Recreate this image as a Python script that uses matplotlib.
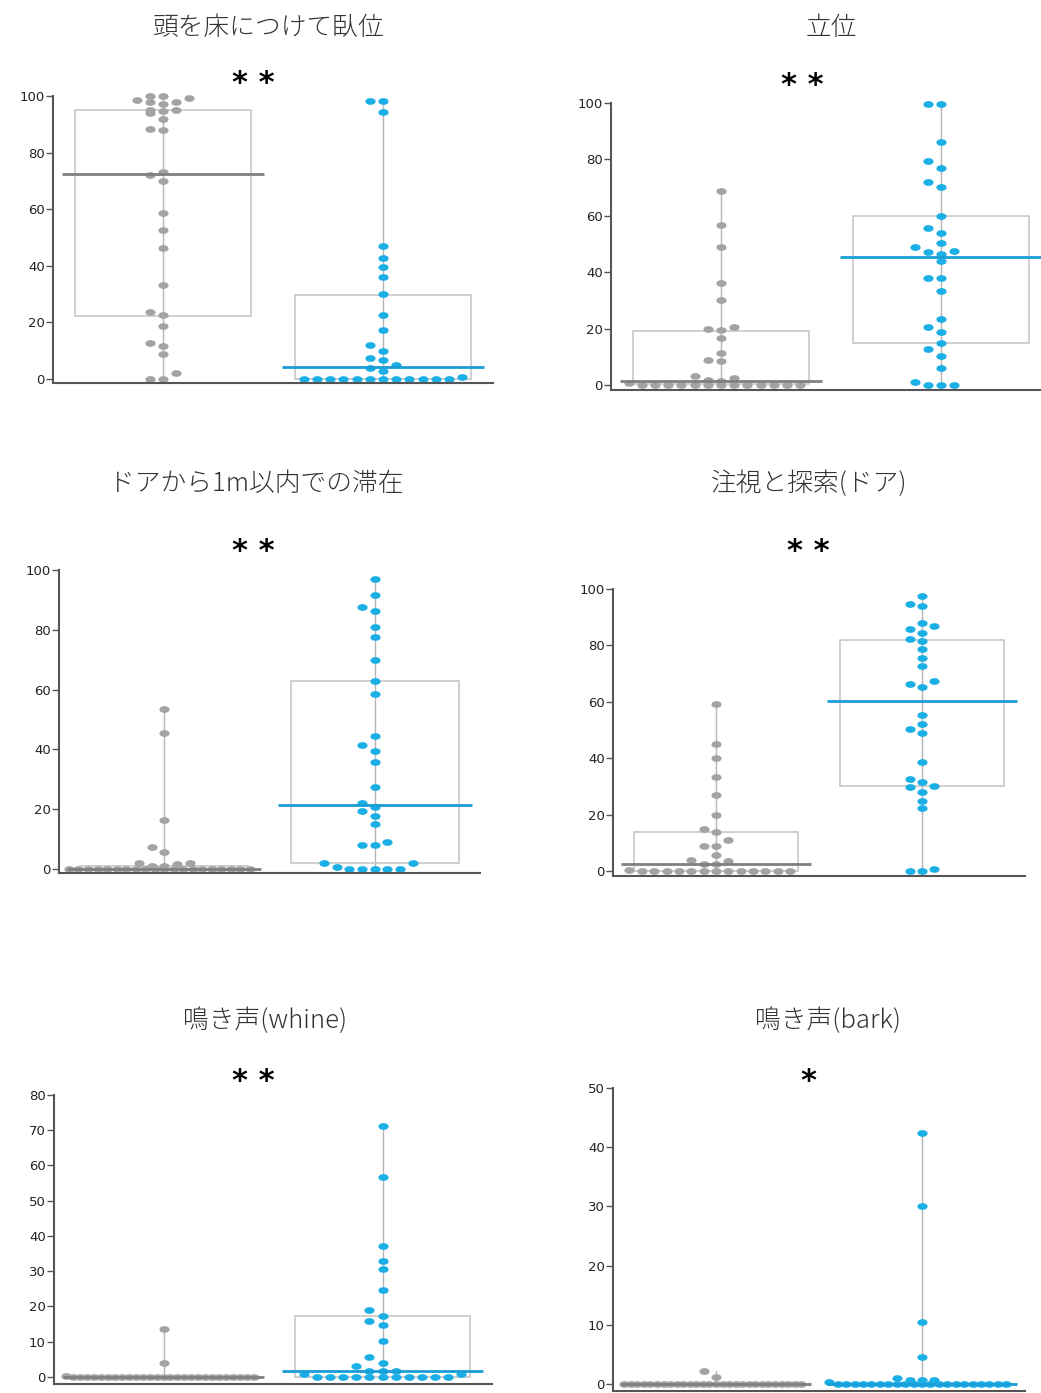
import numpy as np
import matplotlib
matplotlib.use('Agg')
import matplotlib.pyplot as plt
from matplotlib.patches import Rectangle
from matplotlib.path import Path
from matplotlib.transforms import Affine2D

plt.rcParams['font.family'] = ['Noto Sans CJK JP', 'DejaVu Sans']

# ---- data (percent of time), gray = first condition, blue = second ----
titles = ['頭を床につけて臥位', '立位', 'ドアから1m以内での滞在',
          '注視と探索(ドア)', '鳴き声(whine)', '鳴き声(bark)']
stars = ['* *', '* *', '* *', '* *', '* *', '*']

lying_gray = [100, 99.3, 98, 98.7, 100, 97.8, 97.3, 95.2, 94.7, 94.1, 95, 91.7,
              88.2, 88.1, 72, 73, 70, 58.8, 52.6, 46.2, 33.3, 23.6, 22.6, 18.9,
              11.8, 12.8, 8.7, 2, 0, 0]
lying_blue = [98.2, 98.2, 94.4, 47, 42.9, 39.7, 36.1, 30, 22.7, 17.2, 12, 9.9,
              6.6, 7.6, 4.9, 3.9, 2.9, 0.6, 0, 0, 0, 0, 0, 0, 0, 0, 0, 0, 0, 0]
standing_gray = [68.7, 56.9, 48.9, 36.1, 30.3, 19.5, 20.7, 20, 16.5, 11.5, 8.9,
                 8.6, 2.6, 1.4, 1.8, 3, 0.8, 0, 0, 0, 0, 0, 0, 0, 0, 0, 0, 0, 0, 0]
standing_blue = [99.8, 99.8, 86.2, 79.3, 77, 72, 70.2, 60, 55.8, 54, 50.5, 48.8,
                 47, 46.6, 47.5, 43.9, 38, 38, 33.3, 23.5, 20.7, 18.8, 14.9, 12.6,
                 10.3, 6.1, 1.2, 0, 0, 0]
door_gray = [53.6, 45.4, 16.3, 5.6, 7.4, 2.2, 1.6, 1.1, 1, 2,
             0, 0, 0, 0, 0, 0, 0, 0, 0, 0, 0, 0, 0, 0, 0, 0, 0, 0, 0, 0]
door_blue = [97, 91.6, 87.7, 86.4, 81, 77.5, 69.9, 62.8, 58.4, 44.5, 41.5, 39.6,
             35.9, 27.5, 22, 20.8, 19.4, 17.7, 15, 9.1, 8, 8, 2.2, 2, 0.6,
             0, 0, 0, 0, 0]
gaze_gray = [59.1, 45.1, 40, 33.4, 27.1, 19.8, 13.9, 14.8, 11.1, 8.8, 8.8, 5.6,
             3.4, 3.8, 2.3, 2.4, 0.2, 0, 0, 0, 0, 0, 0, 0, 0, 0, 0, 0, 0, 0]
gaze_blue = [97.4, 94.7, 94.1, 87.9, 86.7, 85.9, 84.4, 82.2, 81.4, 78.8, 75.5,
             72.7, 66.2, 65.2, 67.2, 55.3, 52.1, 50.2, 48.8, 38.5, 30.2, 32.6,
             31.6, 29.6, 28.1, 24.9, 22.2, 0, 0, 0.8]
whine_gray = [13.6, 4, 0.4, 0, 0, 0, 0, 0, 0, 0, 0, 0, 0, 0, 0, 0, 0, 0, 0, 0,
              0, 0, 0, 0, 0, 0, 0, 0, 0, 0]
whine_blue = [71.3, 56.6, 37.2, 32.8, 30.7, 24.7, 18.9, 17.4, 15.8, 14.6, 10.3,
              5.6, 3.2, 4, 1.6, 1.6, 1.6, 0.7, 0.7, 0, 0, 0, 0, 0, 0, 0, 0, 0, 0, 0]
bark_gray = [1.1, 2.1, 0, 0, 0, 0, 0, 0, 0, 0, 0, 0, 0, 0, 0, 0, 0, 0, 0, 0, 0,
             0, 0, 0, 0, 0, 0, 0, 0, 0]
bark_blue = [42.4, 30, 10.4, 4.5, 1.0, 0.7, 0.6, 0.6, 0.4, 0, 0, 0, 0, 0, 0, 0,
             0, 0, 0, 0, 0, 0, 0, 0, 0, 0, 0, 0, 0, 0]

# box stats: q1, median, q3
lying_box = [[22.4, 72.4, 95.2], [0, 4.4, 29.7]]
standing_box = [[0.5, 1.5, 19.3], [14.9, 45.2, 60]]
door_box = [[0, 0, 1.2], [2.2, 21.4, 62.8]]
gaze_box = [[0, 2.3, 13.9], [30.1, 60.3, 82]]
whine_box = [[0, 0, 0], [0, 1.6, 17.4]]
bark_box = [[0, 0, 0], [0, 0, 0]]

y_ticks = [np.arange(0, 101, 20)] * 4 + [np.arange(0, 81, 10), np.arange(0, 51, 10)]

GRAY = '#a3a3a3'
BLUE = '#1cafe6'
GRAY_MED = '#808080'
BLUE_MED = '#1a9dd6'

W, H = 1041, 1393
fig = plt.figure(figsize=(W / 100, H / 100), dpi=100)

# axes frames in pixels: left, right, bottom spine, top (value=ymax), ymin, ymax
frames = [
    (53, 493, 383, 96, -1.4, 100),
    (611, 1051, 390, 103, -1.8, 100),
    (59, 480, 873, 570, -1.3, 100),
    (613, 1025, 876, 589, -1.8, 100),
    (54, 492, 1384, 1095, -2.0, 80),
    (613, 1025, 1391, 1088, -1.2, 50),
]
title_pos = [(269, 28), (831, 28), (256, 484), (809, 484), (265, 1021), (828, 1021)]
star_pos = [(253, 84), (802, 86), (253, 551), (808, 551), (253, 1081), (808, 1081)]

ellipse = Path.unit_circle().transformed(Affine2D().scale(1, 0.66))


def row_offsets(vals, px_per_unit, thresh_px=7, tight_px=2.5, dup_min=8,
                step=0.06, max_width=0.86):
    """Dot-plot style offsets: points close in value share a row.
    A row that starts on a heavily repeated value only takes near-equal values."""
    vals = np.asarray(vals, dtype=float)
    order = np.argsort(vals, kind='stable')
    rows, cur, start, lim = [], [], None, thresh_px
    for i in order:
        if cur and (vals[i] - start) * px_per_unit < lim:
            cur.append(i)
        else:
            if cur:
                rows.append(cur)
            cur, start = [i], vals[i]
            lim = tight_px if np.sum(vals == vals[i]) >= dup_min else thresh_px
    rows.append(cur)
    offs = np.zeros(len(vals))
    for row in rows:
        n = len(row)
        s = step if n < 2 else min(step, max_width / (n - 1))
        for k, i in enumerate(row):
            col = (k + 1) // 2 * (-1 if k % 2 else 1)
            offs[i] = col * s
    return offs


panels = [
    (lying_gray, lying_blue, lying_box),
    (standing_gray, standing_blue, standing_box),
    (door_gray, door_blue, door_box),
    (gaze_gray, gaze_blue, gaze_box),
    (whine_gray, whine_blue, whine_box),
    (bark_gray, bark_blue, bark_box),
]

for p, (gray, blue, boxes) in enumerate(panels):
    left, right, bottom, top, ymin, ymax = frames[p]
    ax = fig.add_axes([left / W, 1 - bottom / H, (right - left) / W, (bottom - top) / H])
    ax.set_xlim(-0.5, 1.5)
    ax.set_ylim(ymin, ymax)
    px_per_unit = (bottom - top) / (ymax - ymin)

    for pos, vals, box, dot_c, med_c in [(0, gray, boxes[0], GRAY, GRAY_MED),
                                         (1, blue, boxes[1], BLUE, BLUE_MED)]:
        q1, med, q3 = box
        ax.plot([pos, pos], [min(vals), max(vals)], color='#b5b5b5', lw=1, zorder=1)
        if q3 > q1:
            ax.add_patch(Rectangle((pos - 0.4, q1), 0.8, q3 - q1, fill=False,
                                   ec='#c8c8c8', lw=1.2, zorder=1))
        offs = row_offsets(vals, px_per_unit)
        ax.scatter(pos + offs, vals, s=54, marker=ellipse, color=dot_c,
                   linewidths=0, zorder=2, clip_on=False)
        ax.plot([pos - 0.46, pos + 0.46], [med, med], color=med_c, lw=2, zorder=3,
                solid_capstyle='butt')

    for side in ['top', 'right']:
        ax.spines[side].set_visible(False)
    for side in ['left', 'bottom']:
        ax.spines[side].set_color('#555555')
        ax.spines[side].set_linewidth(1.5)
    ax.spines['left'].set_bounds(ymin, ymax)
    ax.set_yticks(y_ticks[p])
    ax.set_xticks([])
    ax.tick_params(axis='y', length=5, width=1, color='#555555', labelsize=9.5,
                   labelcolor='#222222', pad=1)
    for lab in ax.get_yticklabels():
        lab.set_family('DejaVu Sans')

    tx, ty = title_pos[p]
    fig.text(tx / W, 1 - ty / H, titles[p], ha='center', va='center',
             fontsize=18.5, color='#333333', fontweight='light')
    sx, sy = star_pos[p]
    fig.text(sx / W, 1 - sy / H, stars[p], ha='center', va='center',
             fontsize=22, fontweight='bold', color='black', family='DejaVu Sans')

fig.savefig('out.png', dpi=100)
